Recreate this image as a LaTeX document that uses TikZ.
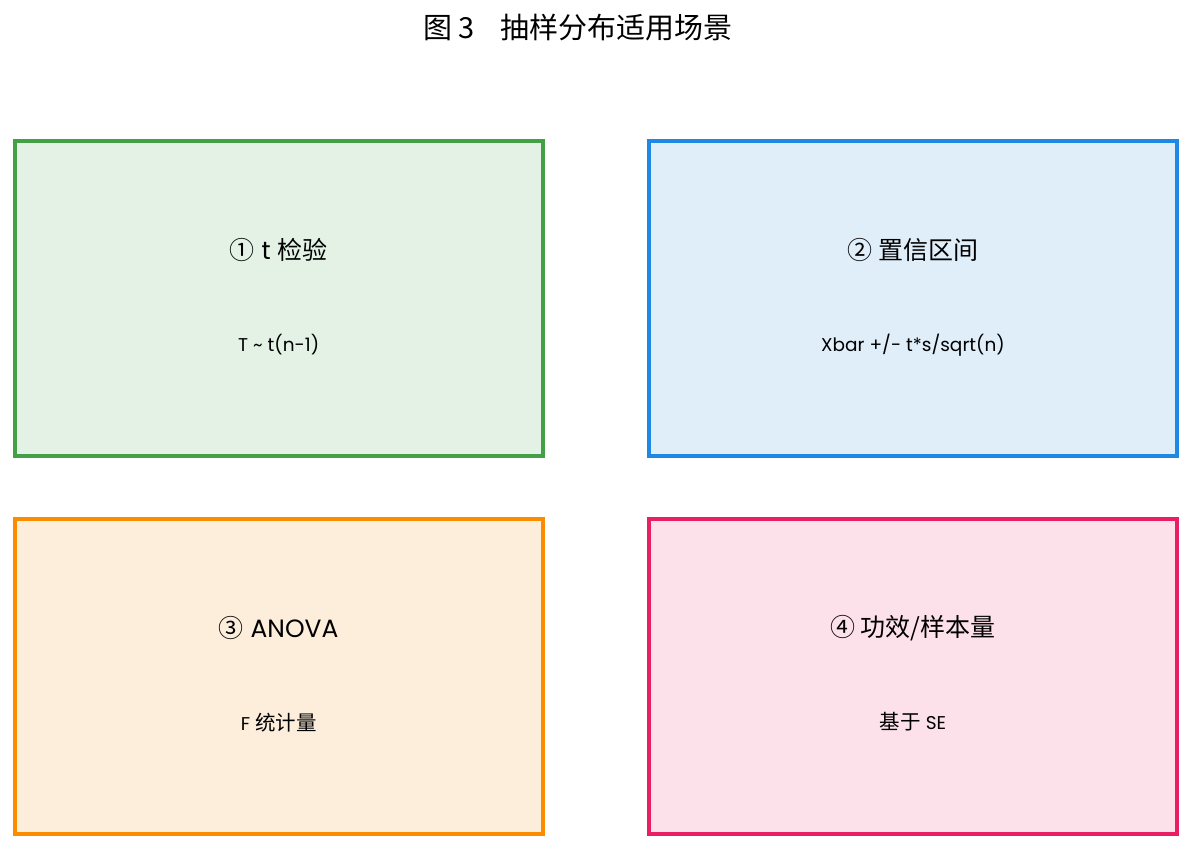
\documentclass[tikz,border=0pt]{standalone}
\usepackage{fontspec}
\setmainfont{Poppins}
\newfontfamily\cjk{Noto Sans CJK SC}
\newcommand{\zh}[1]{{\cjk #1}}
\newcommand{\zhs}[1]{{\cjk\fontsize{20.5}{24}\selectfont #1}}
\definecolor{gline}{HTML}{43A047}\definecolor{gfill}{HTML}{E4F2E5}
\definecolor{bline}{HTML}{1E88E5}\definecolor{bfill}{HTML}{E0EEFA}
\definecolor{oline}{HTML}{FB8C00}\definecolor{ofill}{HTML}{FDEEDC}
\definecolor{pline}{HTML}{E91E63}\definecolor{pfill}{HTML}{FCE0EA}
\tikzset{
  panel/.style={line width=4pt},
  head/.style={font=\fontsize{25}{29}\selectfont, inner sep=0pt},
  sub/.style={font=\fontsize{18.5}{22}\selectfont, inner sep=0pt},
}
\begin{document}
\begin{tikzpicture}[x=1pt,y=-1pt]
\useasboundingbox (0,0) rectangle (1192,849);
\node[inner sep=0pt, font=\cjk\fontsize{29}{33}\selectfont] (title) at (578,28) {图 3\hspace{0.9em}抽样分布适用场景};
\draw[panel, draw=gline, fill=gfill] (14.5,140.5) rectangle (543,455.5);
\draw[panel, draw=bline, fill=bfill] (649.3,140.5) rectangle (1177,455.5);
\draw[panel, draw=oline, fill=ofill] (14.5,519.3) rectangle (543,834);
\draw[panel, draw=pline, fill=pfill] (649.3,519.3) rectangle (1177,834);
\node[head] (h1) at (278.7,250) {\zh{①} t \zh{检验}};
\node[sub] (s1) at (278.7,345) {T \~{} t(n-1)};
\node[head] (h2) at (913,250) {\zh{② 置信区间}};
\node[sub] (s2) at (913,345) {Xbar +/- t*s/sqrt(n)};
\node[head] (h3) at (278.7,628) {\zh{③} ANOVA};
\node[sub] (s3) at (278.7,723) {F \zhs{统计量}};
\node[head] (h4) at (913,628) {\zh{④ 功效/样本量}};
\node[sub] (s4) at (913,722) {\zhs{基于} SE};
\end{tikzpicture}
\end{document}
